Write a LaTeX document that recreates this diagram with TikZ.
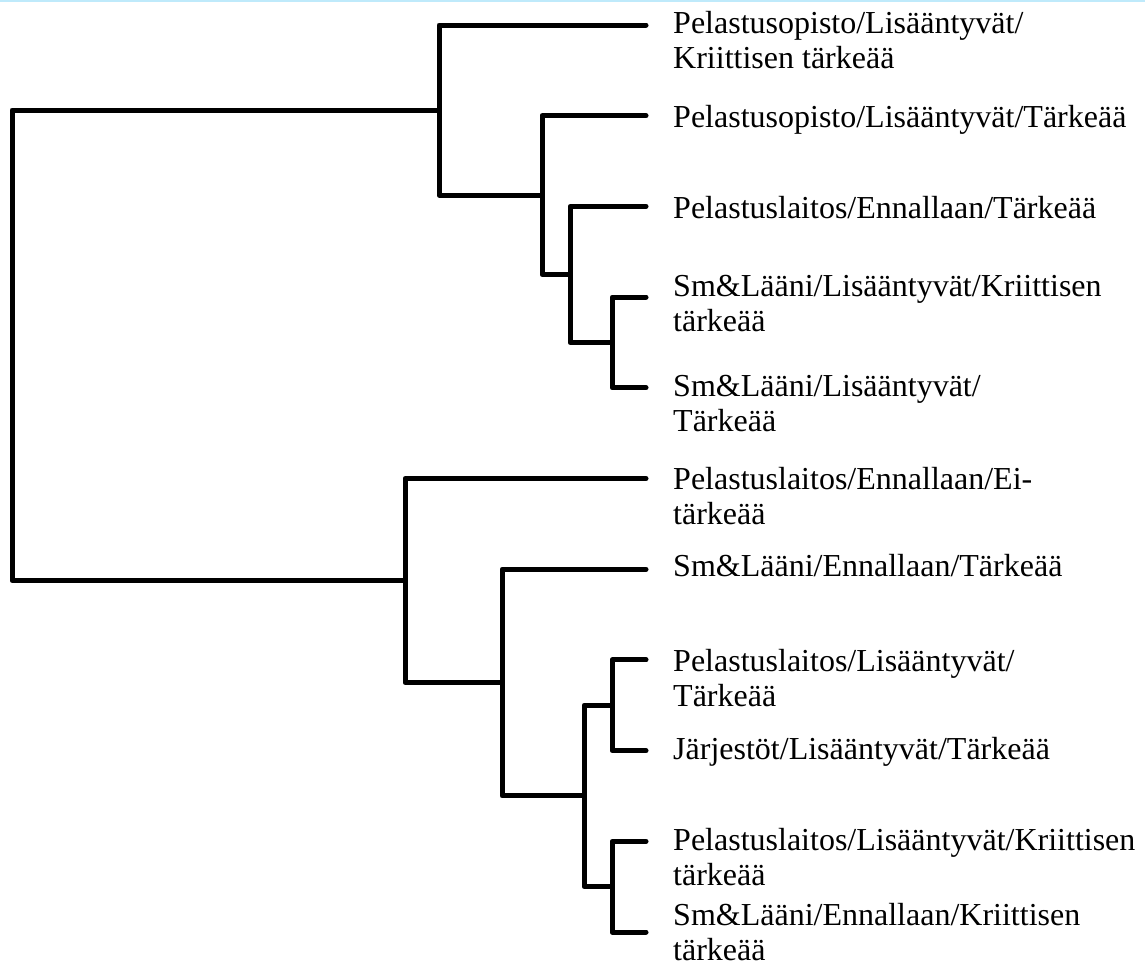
\documentclass[tikz,border=0pt]{standalone}
\usepackage{fontspec}
\setmainfont{Liberation Serif}
\newcommand{\twoline}[2]{\vtop{\hbox{#1}\hbox{#2}}}
\begin{document}
\begin{tikzpicture}[x=1pt,y=-1pt,
  branch/.style={line width=5pt,line cap=round,line join=round},
  leaflabel/.style={anchor=base west,inner sep=0pt,font={\fontsize{32}{35}\selectfont}}]
\useasboundingbox (0,0) rectangle (1145,967);
\fill[cyan!25] (0,0) rectangle (1145,1.5);
% leaves
\coordinate (L1) at (646,25);
\coordinate (L2) at (646,115.7);
\coordinate (L3) at (646,206.4);
\coordinate (L4) at (646,297.1);
\coordinate (L5) at (646,387.8);
\coordinate (L6) at (646,478.5);
\coordinate (L7) at (646,569.2);
\coordinate (L8) at (646,659.9);
\coordinate (L9) at (646,750.6);
\coordinate (L10) at (646,841.3);
\coordinate (L11) at (646,932);
% internal nodes
\coordinate (N45) at (612,342.45);
\coordinate (N345) at (570,274.4);
\coordinate (N2345) at (542,195.05);
\coordinate (A) at (439,110.0);
\coordinate (N89) at (612,705.25);
\coordinate (N1011) at (612,886.65);
\coordinate (N811) at (584,795.95);
\coordinate (N711) at (502,682.6);
\coordinate (B) at (405,580.55);
\coordinate (R) at (12,345.3);
% branches
\draw[branch] (L4) -| (N45) |- (L5);
\draw[branch] (L3) -| (N345) |- (N45);
\draw[branch] (L2) -| (N2345) |- (N345);
\draw[branch] (L1) -| (A) |- (N2345);
\draw[branch] (L8) -| (N89) |- (L9);
\draw[branch] (L10) -| (N1011) |- (L11);
\draw[branch] (N89) -| (N811) |- (N1011);
\draw[branch] (L7) -| (N711) |- (N811);
\draw[branch] (L6) -| (B) |- (N711);
\draw[branch] (A) -| (R) |- (B);
% labels
\node[leaflabel] (T1) at (673,33) {\twoline{Pelastusopisto/Lisääntyvät/}{Kriittisen tärkeää}};
\node[leaflabel] (T2) at (673,127) {Pelastusopisto/Lisääntyvät/Tärkeää};
\node[leaflabel] (T3) at (673,218) {Pelastuslaitos/Ennallaan/Tärkeää};
\node[leaflabel] (T4) at (673,296) {\twoline{Sm\&Lääni/Lisääntyvät/Kriittisen}{tärkeää}};
\node[leaflabel] (T5) at (673,396) {\twoline{Sm\&Lääni/Lisääntyvät/}{Tärkeää}};
\node[leaflabel] (T6) at (673,489) {\twoline{Pelastuslaitos/Ennallaan/Ei-}{tärkeää}};
\node[leaflabel] (T7) at (673,576) {Sm\&Lääni/Ennallaan/Tärkeää};
\node[leaflabel] (T8) at (673,671) {\twoline{Pelastuslaitos/Lisääntyvät/}{Tärkeää}};
\node[leaflabel] (T9) at (673,759) {Järjestöt/Lisääntyvät/Tärkeää};
\node[leaflabel] (T10) at (673,850) {\twoline{Pelastuslaitos/Lisääntyvät/Kriittisen}{tärkeää}};
\node[leaflabel] (T11) at (673,925) {\twoline{Sm\&Lääni/Ennallaan/Kriittisen}{tärkeää}};
\end{tikzpicture}
\end{document}
